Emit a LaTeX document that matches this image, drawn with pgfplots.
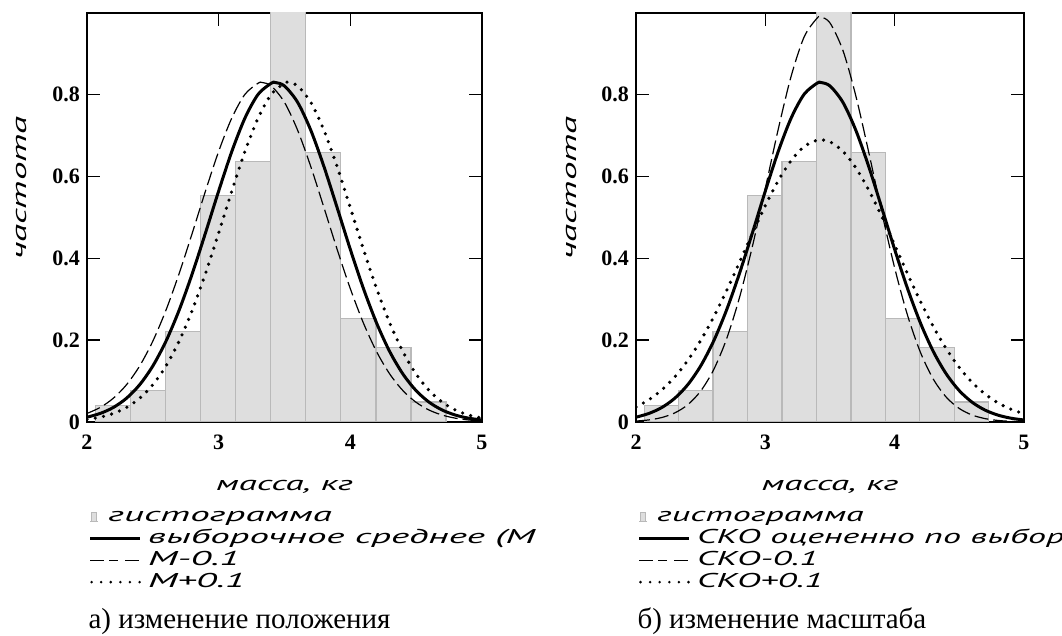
\documentclass[border=0pt]{standalone}
\usepackage{fontspec}
\setmainfont{Liberation Serif}
\newfontfamily\mc[FakeStretch=1.85]{PT Sans}
\newfontfamily\mcL[FakeStretch=1.95]{PT Sans}
\newfontfamily\mcR[FakeStretch=1.8]{PT Sans}
\usepackage{pgfplots}
\pgfplotsset{compat=1.18}
\definecolor{histfill}{RGB}{222,222,222}
\definecolor{histedge}{RGB}{185,185,185}
\pgfplotsset{
  myaxis/.style={
    scale only axis, anchor=south west,
    height=204.5pt,
    clip mode=individual,
    xmin=2, xmax=5, ymin=0, ymax=1,
    xtick={2,3,4,5}, ytick={0,0.2,0.4,0.6,0.8},
    tick align=inside, major tick length=6.5pt,
    axis line style={line width=0.7pt, black},
    every tick/.style={black, line width=0.7pt},
    /pgf/number format/assume math mode=true,
    ticklabel style={font=\bfseries\fontsize{11}{11}\selectfont},
    xticklabel style={yshift=-3pt},
    xlabel={масса, кг},
    ylabel={частота},
    label style={font=\mc\itshape\fontsize{10}{10}\selectfont},
    xlabel style={at={(axis description cs:0.5,-0.159)}, anchor=center},
    ylabel style={at={(axis description cs:-0.165,0.572)}, anchor=center},
    legend style={draw=none, fill=none, inner sep=0pt, outer sep=0pt,
      at={(axis description cs:0.008,-0.205)}, anchor=north west,
      row sep=0pt, column sep=0pt,
      nodes={inner sep=0pt, text height=8pt, text depth=2.9pt}},
    legend cell align=left,
  },
  histo/.style={ybar interval, fill=histfill, draw=histedge, line width=0.6pt,
    legend image code/.code={\draw[overlay, draw=histedge, line width=0.6pt] (0pt,-2.5pt) -- (4pt,-2.5pt) (0.8pt,-2.5pt) -- (0.8pt,2pt) -- (3.2pt,2pt) -- (3.2pt,-2.5pt);}},
  solidc/.style={black, line width=1.5pt, smooth, no markers,
    legend image code/.code={\draw[overlay, black, line width=1.5pt] (0pt,0pt) -- (25pt,0pt);}},
  dashc/.style={black, line width=0.6pt, smooth, no markers, dash pattern=on 7pt off 2.5pt,
    legend image code/.code={\draw[overlay, black, line width=0.7pt] (0pt,0pt) -- (14pt,0pt) (17.5pt,0pt) -- (25pt,0pt);}},
  dotc/.style={black, line width=1.8pt, smooth, no markers, line cap=round, dash pattern=on 0pt off 4.2pt,
    legend image code/.code={\draw[overlay, black, line width=1.4pt, line cap=round, dash pattern=on 0pt off 4.8pt] (0.7pt,0pt) -- (25pt,0pt);}},
}
\begin{document}
\begin{tikzpicture}
\useasboundingbox (0,0) rectangle (531pt,318pt);
% ---------------- left ----------------
\begin{axis}[myaxis, at={(43.5pt,107pt)}, width=197.5pt,
  legend style={font=\mcL\itshape\fontsize{10}{10}\selectfont}]
\addplot[histo] coordinates {(2.063,0.041)(2.330,0.077)(2.596,0.222)(2.862,0.553)(3.129,0.637)(3.395,1.100)(3.662,0.658)(3.928,0.253)(4.195,0.183)(4.461,0.049)(4.727,0)};
\addlegendentry{\hspace{9pt}гистограмма}
\addplot[solidc] coordinates {(2.0,0.0117)(2.1,0.0209)(2.2,0.0355)(2.3,0.0581)(2.4,0.0911)(2.5,0.1370)(2.6,0.1977)(2.7,0.2736)(2.8,0.3632)(2.9,0.4624)(3.0,0.5647)(3.1,0.6616)(3.2,0.7434)(3.3,0.8013)(3.4,0.8284)(3.43,0.8300)(3.5,0.8216)(3.6,0.7815)(3.7,0.7131)(3.8,0.6241)(3.9,0.5239)(4.0,0.4219)(4.1,0.3259)(4.2,0.2415)(4.3,0.1716)(4.4,0.1170)(4.5,0.0765)(4.6,0.0480)(4.7,0.0289)(4.8,0.0167)(4.9,0.0092)(5.0,0.0049)};
\addlegendentry{\hspace{29pt}выборочное среднее (М}
\addplot[dashc] coordinates {(2.0,0.0209)(2.1,0.0355)(2.2,0.0581)(2.3,0.0911)(2.4,0.1370)(2.5,0.1977)(2.6,0.2736)(2.7,0.3632)(2.8,0.4624)(2.9,0.5647)(3.0,0.6616)(3.1,0.7434)(3.2,0.8013)(3.3,0.8284)(3.33,0.8300)(3.4,0.8216)(3.5,0.7815)(3.6,0.7131)(3.7,0.6241)(3.8,0.5239)(3.9,0.4219)(4.0,0.3259)(4.1,0.2415)(4.2,0.1716)(4.3,0.1170)(4.4,0.0765)(4.5,0.0480)(4.6,0.0289)(4.7,0.0167)(4.8,0.0092)(4.9,0.0049)(5.0,0.0025)};
\addlegendentry{\hspace{29pt}М-0.1}
\addplot[dotc] coordinates {(2.0,0.0063)(2.1,0.0117)(2.2,0.0209)(2.3,0.0355)(2.4,0.0581)(2.5,0.0911)(2.6,0.1370)(2.7,0.1977)(2.8,0.2736)(2.9,0.3632)(3.0,0.4624)(3.1,0.5647)(3.2,0.6616)(3.3,0.7434)(3.4,0.8013)(3.5,0.8284)(3.53,0.8300)(3.6,0.8216)(3.7,0.7815)(3.8,0.7131)(3.9,0.6241)(4.0,0.5239)(4.1,0.4219)(4.2,0.3259)(4.3,0.2415)(4.4,0.1716)(4.5,0.1170)(4.6,0.0765)(4.7,0.0480)(4.8,0.0289)(4.9,0.0167)(5.0,0.0092)};
\addlegendentry{\hspace{29pt}М+0.1}
\node[anchor=base west, font=\fontsize{14.5}{14.5}\selectfont, inner sep=0pt] at (axis description cs:0.003,-0.506) {а) изменение положения};
\end{axis}
% ---------------- right ----------------
\begin{axis}[myaxis, at={(318pt,107pt)}, width=194pt,
  legend style={font=\mcR\itshape\fontsize{10}{10}\selectfont}]
\addplot[histo] coordinates {(2.063,0.041)(2.330,0.077)(2.596,0.222)(2.862,0.553)(3.129,0.637)(3.395,1.100)(3.662,0.658)(3.928,0.253)(4.195,0.183)(4.461,0.049)(4.727,0)};
\addlegendentry{\hspace{9pt}гистограмма}
\addplot[solidc] coordinates {(2.0,0.0117)(2.1,0.0209)(2.2,0.0355)(2.3,0.0581)(2.4,0.0911)(2.5,0.1370)(2.6,0.1977)(2.7,0.2736)(2.8,0.3632)(2.9,0.4624)(3.0,0.5647)(3.1,0.6616)(3.2,0.7434)(3.3,0.8013)(3.4,0.8284)(3.43,0.8300)(3.5,0.8216)(3.6,0.7815)(3.7,0.7131)(3.8,0.6241)(3.9,0.5239)(4.0,0.4219)(4.1,0.3259)(4.2,0.2415)(4.3,0.1716)(4.4,0.1170)(4.5,0.0765)(4.6,0.0480)(4.7,0.0289)(4.8,0.0167)(4.9,0.0092)(5.0,0.0049)};
\addlegendentry{\hspace{29pt}СКО оцененно по выбор}
\addplot[dashc] coordinates {(2.0,0.0023)(2.1,0.0051)(2.2,0.0110)(2.3,0.0222)(2.4,0.0422)(2.5,0.0756)(2.6,0.1276)(2.7,0.2029)(2.8,0.3040)(2.9,0.4293)(3.0,0.5712)(3.1,0.7161)(3.2,0.8459)(3.3,0.9415)(3.4,0.9874)(3.43,0.9900)(3.5,0.9757)(3.6,0.9085)(3.7,0.7970)(3.8,0.6589)(3.9,0.5132)(4.0,0.3767)(4.1,0.2605)(4.2,0.1697)(4.3,0.1042)(4.4,0.0603)(4.5,0.0329)(4.6,0.0169)(4.7,0.0082)(4.8,0.0037)(4.9,0.0016)(5.0,0.0007)};
\addlegendentry{\hspace{29pt}СКО-0.1}
\addplot[dotc] coordinates {(2.0,0.0366)(2.1,0.0544)(2.2,0.0785)(2.3,0.1102)(2.4,0.1503)(2.5,0.1992)(2.6,0.2565)(2.7,0.3209)(2.8,0.3902)(2.9,0.4609)(3.0,0.5291)(3.1,0.5901)(3.2,0.6395)(3.3,0.6735)(3.4,0.6891)(3.43,0.6900)(3.5,0.6852)(3.6,0.6619)(3.7,0.6214)(3.8,0.5668)(3.9,0.5024)(4.0,0.4327)(4.1,0.3621)(4.2,0.2944)(4.3,0.2326)(4.4,0.1786)(4.5,0.1332)(4.6,0.0966)(4.7,0.0680)(4.8,0.0466)(4.9,0.0310)(5.0,0.0200)};
\addlegendentry{\hspace{29pt}СКО+0.1}
\node[anchor=base west, font=\fontsize{14.5}{14.5}\selectfont, inner sep=0pt] at (axis description cs:0.003,-0.506) {б) изменение масштаба};
\end{axis}
\end{tikzpicture}
\end{document}
